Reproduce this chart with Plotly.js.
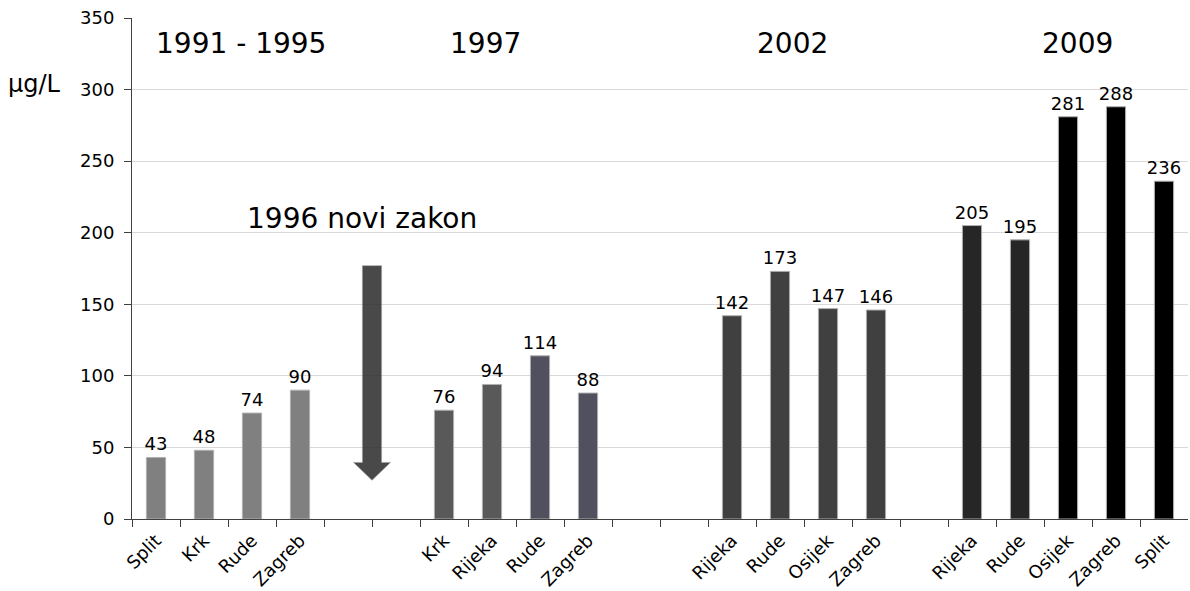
<!DOCTYPE html>
<html><head><meta charset="utf-8">
<script src="https://cdn.plot.ly/plotly-3.0.1.min.js"></script>
<style>html,body{margin:0;padding:0;background:#fff}#chart{width:1190px;height:591px}</style>
</head><body><div id="chart"></div>
<script>
// categories (empty strings are gap slots)
const labels = ["Split","Krk","Rude","Zagreb","","","Krk","Rijeka","Rude","Zagreb","","","Rijeka","Rude","Osijek","Zagreb","","Rijeka","Rude","Osijek","Zagreb","Split"];
const values = [43,48,74,90,null,null,76,94,114,88,null,null,142,173,147,146,null,205,195,281,288,236];
const barColors = ["#808080","#808080","#808080","#808080","#fff","#fff","#595959","#595959","#50505e","#50505e","#fff","#fff","#404040","#404040","#404040","#404040","#fff","#262626","#262626","#000000","#000000","#000000"];
const periods = ["1991 - 1995","1997","2002","2009"];
const periodPos = [1.77,6.87,13.25,19.2];
const lawText = "1996 novi zakon";
// arrow (law change) extent in data units
const arrowX = 4.5, arrowTop = 177, arrowHeadBase = 39.5, arrowTip = 27;

const idx = labels.map((_, i) => i);
const font = "DejaVu Sans, Verdana, sans-serif";

const trace = {
  type: "bar",
  x: idx,
  y: values,
  width: 0.4,
  marker: {color: barColors, line: {color: "#b0b0b0", width: 1}},
  text: values.map(v => v == null ? "" : String(v)),
  textposition: "outside",
  constraintext: "none",
  textfont: {family: font, size: 18, color: "#000"},
  cliponaxis: false,
  hoverinfo: "x+y"
};
// dummy trace to drive the boundary tick axis
const tickTrace = {type: "scatter", x: [-0.5, 21.5], y: [0, 0], xaxis: "x2", mode: "none", hoverinfo: "skip", showlegend: false};

const sw = 0.2, hw = 0.385;
const arrowPath = `M ${arrowX-sw},${arrowTop} L ${arrowX+sw},${arrowTop} L ${arrowX+sw},${arrowHeadBase} L ${arrowX+hw},${arrowHeadBase} L ${arrowX},${arrowTip} L ${arrowX-hw},${arrowHeadBase} L ${arrowX-sw},${arrowHeadBase} Z`;

const annotations = periods.map((p, i) => ({
  x: periodPos[i], y: 332, xref: "x", yref: "y", text: p, showarrow: false,
  font: {family: font, size: 28, color: "#000"}
}));
annotations.push({x: 4.3, y: 210, xref: "x", yref: "y", text: lawText, showarrow: false, font: {family: font, size: 28, color: "#000"}});
annotations.push({x: 0, y: 0.868, xref: "paper", yref: "paper", xanchor: "left", yanchor: "middle", text: "μg/L", showarrow: false, font: {family: font, size: 24, color: "#000"}, xshift: -126});

const layout = {
  width: 1190, height: 591,
  margin: {l: 132, r: 2, t: 18, b: 72},
  paper_bgcolor: "#fff", plot_bgcolor: "#fff",
  showlegend: false,
  font: {family: font, color: "#000"},
  xaxis: {
    range: [-0.5, 21.5], tickvals: idx, ticktext: labels, tickangle: -45,
    ticks: "", showgrid: false, zeroline: false,
    showline: true, linecolor: "#404040", linewidth: 1,
    ticklabelstandoff: 3,
    tickfont: {family: font, size: 18, color: "#000"}
  },
  xaxis2: {
    overlaying: "x", range: [-0.5, 21.5], tickvals: idx.concat([21]).map(i => i - 0.5),
    ticks: "outside", ticklen: 7, tickcolor: "#404040", showticklabels: false,
    showgrid: false, zeroline: false, side: "bottom", anchor: "y"
  },
  yaxis: {
    range: [0, 350], dtick: 50, showgrid: true, gridcolor: "#d9d9d9", gridwidth: 1,
    zeroline: false, showline: true, linecolor: "#404040", linewidth: 1,
    ticks: "outside", ticklen: 7, tickcolor: "#404040",
    ticklabelstandoff: 6,
    tickfont: {family: font, size: 18, color: "#000"}
  },
  shapes: [{type: "path", path: arrowPath, xref: "x", yref: "y", fillcolor: "rgba(48,48,48,0.88)", line: {color: "rgba(160,160,160,0.6)", width: 1}}],
  annotations: annotations
};

Plotly.newPlot("chart", [trace, tickTrace], layout, {displayModeBar: false, staticPlot: true});
</script></body></html>
